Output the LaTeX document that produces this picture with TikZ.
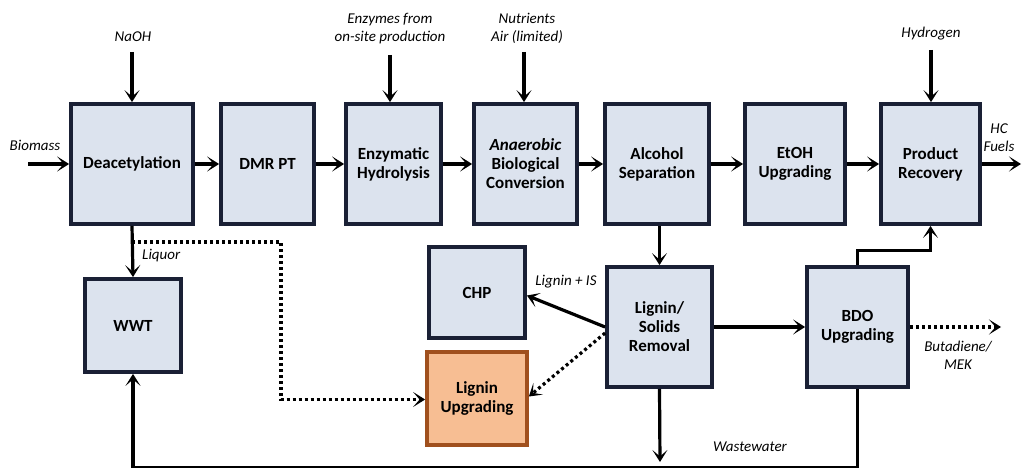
\documentclass[tikz,border=0pt]{standalone}
\usepackage{fontspec}
\setmainfont{Carlito}
\usetikzlibrary{arrows.meta,positioning}
\definecolor{boxfill}{HTML}{DCE3EE}
\definecolor{boxline}{HTML}{1A2035}
\definecolor{orfill}{HTML}{F7BE93}
\definecolor{orline}{HTML}{A0501E}
\tikzset{
  unit/.style={draw=boxline, fill=boxfill, line width=3.8pt, align=center,
    font=\fontsize{17}{19}\selectfont\bfseries, inner sep=2pt},
  orunit/.style={unit, draw=orline, fill=orfill},
  lab/.style={font=\fontsize{15}{18}\selectfont\itshape, align=center, inner sep=0pt},
  arr/.style={line width=3.2pt, -{Stealth[length=12pt,width=15pt,inset=6.5pt]}},
  dotarr/.style={arr, dash pattern=on 3pt off 3pt}
}
\begin{document}
\begin{tikzpicture}[x=1pt,y=-1pt]
\useasboundingbox (0,0) rectangle (1023,468);
% top row
\node[unit, minimum width=122pt, minimum height=120pt] (deac) at (132,164) {Deacetylation};
\node[unit, minimum width=93pt, minimum height=120pt] (dmr) at (267.5,164) {DMR PT};
\node[unit, minimum width=95pt, minimum height=120pt] (enz) at (393.5,164) {Enzymatic\\Hydrolysis};
\node[unit, minimum width=103pt, minimum height=120pt] (ana) at (525.5,164) {\itshape Anaerobic\\Biological\\Conversion};
\node[unit, minimum width=104pt, minimum height=120pt] (alc) at (657,164) {Alcohol\\Separation};
\node[unit, minimum width=100pt, minimum height=120pt] (etoh) at (795,164) {EtOH\\Upgrading};
\node[unit, minimum width=99pt, minimum height=120pt] (prod) at (930.5,164) {Product\\Recovery};
% lower
\node[unit, minimum width=96pt, minimum height=93pt] (wwt) at (133,325.5) {WWT};
\node[unit, minimum width=96pt, minimum height=91pt] (chp) at (477,292.5) {CHP};
\node[orunit, minimum width=100pt, minimum height=93pt] (lup) at (477,398.5) {Lignin\\Upgrading};
\node[unit, minimum width=105pt, minimum height=120pt] (lsr) at (659.5,327) {Lignin/\\Solids\\Removal};
\node[unit, minimum width=101pt, minimum height=120pt] (bdo) at (857.5,327) {BDO\\Upgrading};
% labels
\node[lab] (naoh) at (133,37) {NaOH};
\node[lab] (biom) at (35,145) {Biomass};
\node[lab] (enzl) at (390,29) {Enzymes from\\on-site production};
\node[lab] (nutl) at (527,28) {Nutrients\\Air (limited)};
\node[lab] (hyd) at (931,34) {Hydrogen};
\node[lab] (hcf) at (999,138) {HC\\Fuels};
\node[lab, anchor=west] (liq) at (142,256) {Liquor};
\node[lab] (ligis) at (566,282) {Lignin + IS};
\node[lab] (butl) at (958,355) {Butadiene/\\MEK};
\node[lab] (wwl) at (750,447) {Wastewater};
% free ends
\coordinate (bin) at (28,164);
\coordinate (naoh0) at (132,52);
\coordinate (enz0) at (390,55);
\coordinate (nut0) at (524,52);
\coordinate (hyd0) at (931,50);
\coordinate (hcout) at (1021,164);
\coordinate (liqsplit) at (132,242);
\coordinate (butout) at (1001,327);
\coordinate (wwout) at (660,462);
% connectors
\draw[arr] (bin) -- (deac.west);
\draw[arr] (naoh0) -- (deac.north);
\draw[arr] (enz0) -- (enz.north -| enz0);
\draw[arr] (nut0) -- (ana.north -| nut0);
\draw[arr] (hyd0) -- (prod.north -| hyd0);
\draw[arr] (deac) -- (dmr);
\draw[arr] (dmr) -- (enz);
\draw[arr] (enz) -- (ana);
\draw[arr] (ana) -- (alc);
\draw[arr] (alc) -- (etoh);
\draw[arr] (etoh) -- (prod);
\draw[arr] (prod.east) -- (hcout);
\draw[arr] (alc.south -| lsr.north) -- (lsr.north);
\draw[arr] (deac.south) -- (wwt.north);
\draw[dotarr] (liqsplit) -- (281,242) |- ([yshift=-1pt]lup.west);
\draw[arr] (lsr.west) -- ([yshift=-3pt]chp.east);
\draw[dotarr] ([yshift=-6pt]lsr.west) -- ([yshift=2pt]lup.east);
\draw[arr] (lsr) -- (bdo);
\draw[arr] (bdo.north) -- ++(0,-15) -| (prod.south);
\draw[dotarr] (bdo.east) -- (butout);
\draw[arr] (lsr.south) -- (wwout);
\draw[arr] (bdo.south) -- ++(0,79) -| (wwt.south);
\end{tikzpicture}
\end{document}
